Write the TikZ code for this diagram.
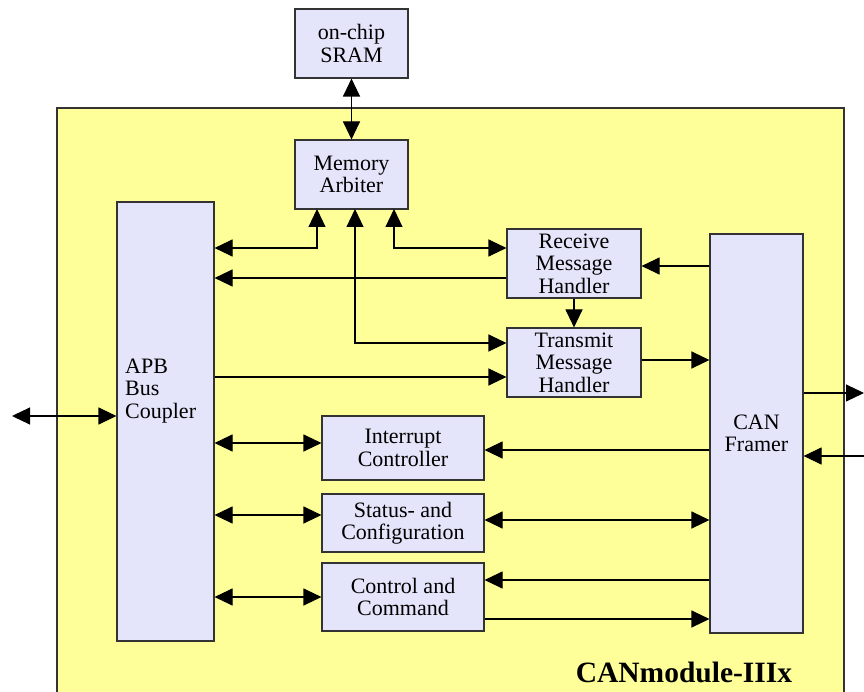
\documentclass[tikz,border=0pt]{standalone}
\usepackage{fontspec}
\setmainfont{Liberation Serif}
\usetikzlibrary{arrows.meta}
\definecolor{modyel}{RGB}{255,255,153}
\definecolor{boxfill}{RGB}{228,228,250}
\begin{document}
\begin{tikzpicture}[x=1pt,y=-1pt,
  blk/.style={draw=black!80,line width=1.1pt,fill=boxfill,inner sep=0pt,align=center,
    font=\fontsize{22}{22.5}\selectfont},
  conn/.style={line width=1.1pt,draw=black},
  tip/.style={-{Triangle[length=18pt,width=17pt]}},
  tips/.style={{Triangle[length=18pt,width=17pt]}-{Triangle[length=18pt,width=17pt]}}]
\useasboundingbox (0,0) rectangle (864,692);
\fill[modyel] (57,108) rectangle (844,692);
\draw[black!80,line width=1.1pt] (57,692) -- (57,108) -- (844,108) -- (844,692);
\node[font=\fontsize{29.5}{30}\selectfont\bfseries,anchor=center] (title) at (684,672) {CANmodule-IIIx};
% blocks
\node[blk,minimum width=113pt,minimum height=69pt] (sram) at (351.5,43.5) {on-chip\\SRAM};
\node[blk,minimum width=113pt,minimum height=69pt] (arb) at (351.5,174.5) {Memory\\Arbiter};
\node[blk,minimum width=97pt,minimum height=439pt] (apb) at (165.5,421.5) {};
\node[font=\fontsize{22}{22.5}\selectfont,align=left,anchor=west,inner sep=0pt] (apbtext) at (125,391) {APB\\Bus\\Coupler};
\node[blk,minimum width=134pt,minimum height=69pt] (rmh) at (574,263.5) {Receive\\Message\\Handler};
\node[blk,minimum width=134pt,minimum height=69pt] (tmh) at (574,362.5) {Transmit\\Message\\Handler};
\node[blk,minimum width=93pt,minimum height=399pt] (can) at (756.5,433.5) {CAN\\Framer};
\node[blk,minimum width=162pt,minimum height=64pt] (irq) at (403,448) {Interrupt\\Controller};
\node[blk,minimum width=162pt,minimum height=58pt] (stat) at (403,523) {Status- and\\Configuration};
\node[blk,minimum width=162pt,minimum height=68pt] (ctrl) at (403,597) {Control and\\Command};
% external coordinates
\coordinate (extl) at (12,416);
\coordinate (extr1) at (864,393);
\coordinate (extr2) at (864,456);
% connectors
\draw[conn,tips] (sram.south) -- (arb.north);
\draw[conn,tips] (apb.east |- 0,248) -- (317,248) -- (317,209);
\draw[conn,tips] (394,209) -- (394,248) -- (rmh.west |- 0,248);
\draw[conn,tips] (355,209) -- (355,343) -- (tmh.west |- 0,343);
\draw[conn,tip] (rmh.west |- 0,278) -- (apb.east |- 0,278);
\draw[conn,tip] (can.west |- 0,266) -- (rmh.east |- 0,266);
\draw[conn,tip] (rmh.south) -- (tmh.north);
\draw[conn,tip] (apb.east |- 0,377) -- (tmh.west |- 0,377);
\draw[conn,tip] (tmh.east |- 0,360) -- (can.west |- 0,360);
\draw[conn,tips] (extl) -- (apb.west |- extl);
\draw[conn,tip] (can.east |- extr1) -- (extr1);
\draw[conn,tip] (extr2) -- (can.east |- extr2);
\draw[conn,tips] (apb.east |- 0,443) -- (irq.west |- 0,443);
\draw[conn,tip] (can.west |- 0,450) -- (irq.east |- 0,450);
\draw[conn,tips] (apb.east |- 0,515) -- (stat.west |- 0,515);
\draw[conn,tips] (stat.east |- 0,520) -- (can.west |- 0,520);
\draw[conn,tips] (apb.east |- 0,597) -- (ctrl.west |- 0,597);
\draw[conn,tip] (can.west |- 0,580) -- (ctrl.east |- 0,580);
\draw[conn,tip] (ctrl.east |- 0,619) -- (can.west |- 0,619);
\end{tikzpicture}
\end{document}
